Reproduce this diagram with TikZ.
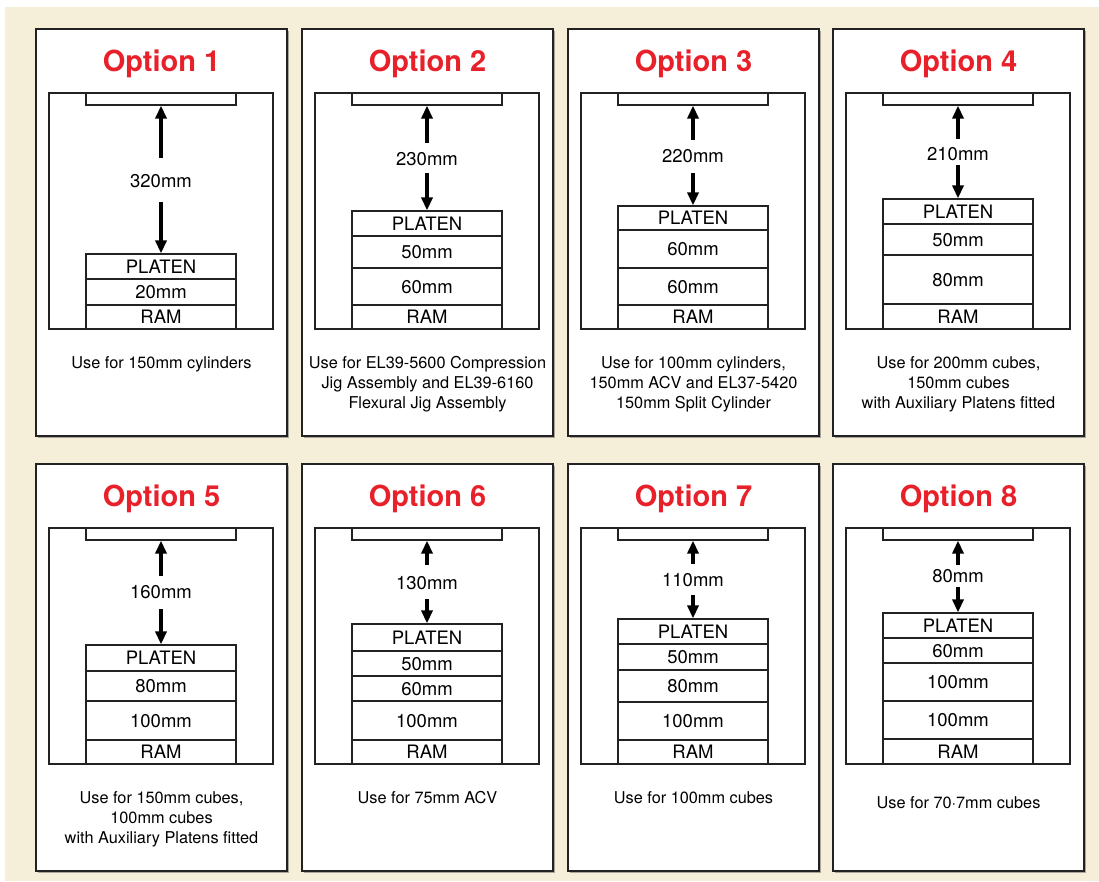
\documentclass[tikz,border=0pt]{standalone}
\usepackage{fontspec}
\setmainfont{TeX Gyre Heros}
\usetikzlibrary{arrows.meta}
\definecolor{bgbeige}{HTML}{F5EED8}
\definecolor{optred}{HTML}{E8202A}
\definecolor{linegray}{HTML}{222222}
\definecolor{shadowgray}{HTML}{A8A49A}
\tikzset{
  panel/.style={draw=linegray, line width=1.4pt, fill=white, inner sep=0pt, minimum width=251pt, minimum height=407pt},
  frame/.style={draw=linegray, line width=1.2pt},
  cell/.style={draw=linegray, line width=1.2pt, fill=white, minimum width=150pt, inner sep=0pt,
    font=\fontsize{18.5}{22}\selectfont, text height=13.3pt, text depth=0pt},
  topplate/.style={draw=linegray, line width=1.2pt, fill=white, minimum width=150pt, minimum height=12pt, inner sep=0pt},
  gaplabel/.style={inner sep=0pt, font=\fontsize{18.5}{22}\selectfont, text height=13.3pt, text depth=0pt},
  titletxt/.style={inner sep=0pt, text=optred, font=\fontsize{29}{34}\selectfont\bfseries, text height=20.9pt, text depth=0pt},
  captxt/.style={inner sep=0pt, font=\fontsize{16.3}{20}\selectfont, text height=11.7pt, text depth=0pt},
  dimarrow/.style={line width=3.6pt, -{Triangle[length=13pt,width=11pt]}},
}
% #1 left x, #2 row shift, #3 id, #4 title, #5 gap label, #6 label y, #7 up tail y, #8 down tail y, #9 cells
\newcommand{\optbox}[9]{%
  \begin{scope}[shift={(#1,#2)}]
    \fill[shadowgray] (2,31) rectangle (253,438);
    \node[panel] (#3box) at (125.5,232.5) {};
    \node[titletxt] (#3title) at (125.5,61) {#4};
    \draw[frame] (13,93) rectangle (237,329);
    \node[topplate] (#3top) at (125,99) {};
    \foreach \a/\b/\t [count=\k] in {#9} {
      \node[cell, minimum height={\b-\a}] (#3c\k) at (125,{(\a+\b)/2}) {\t};
    }
    \node[gaplabel] (#3gap) at (125,#6) {#5};
    \coordinate (#3up) at (125,#7);
    \coordinate (#3dn) at (125,#8);
    \draw[dimarrow] (#3up) -- (#3top.south);
    \draw[dimarrow] (#3dn) -- (#3c1.north);
  \end{scope}}
\begin{document}
\begin{tikzpicture}[x=1pt,y=-1pt]
  \useasboundingbox (0,0) rectangle (1099,881);
  \fill[bgbeige] (5,7) rectangle (1099,881);
  % row 1
  \optbox{36}{0}{pA}{Option 1}{320mm}{181}{158}{202}{254/279/PLATEN, 279/305/20mm, 305/329/RAM}
  \optbox{302}{0}{pB}{Option 2}{230mm}{159}{143}{173}{211/236/PLATEN, 236/268/50mm, 268/305/60mm, 305/329/RAM}
  \optbox{568}{0}{pC}{Option 3}{220mm}{156}{140}{173}{206/230/PLATEN, 230/268/60mm, 268/305/60mm, 305/329/RAM}
  \optbox{833}{0}{pD}{Option 4}{210mm}{154}{139}{165}{199/224/PLATEN, 224/255/50mm, 255/304/80mm, 304/329/RAM}
  % row 2
  \optbox{36}{435}{pE}{Option 5}{160mm}{157}{141}{174}{210/236/PLATEN, 236/266/80mm, 266/305/100mm, 305/329/RAM}
  \optbox{302}{435}{pF}{Option 6}{130mm}{148}{130}{164}{189/216/PLATEN, 216/241/50mm, 241/266/60mm, 266/305/100mm, 305/329/RAM}
  \optbox{568}{435}{pG}{Option 7}{110mm}{145}{129}{160}{184/209/PLATEN, 209/235/50mm, 235/267/80mm, 267/305/100mm, 305/329/RAM}
  \optbox{833}{435}{pH}{Option 8}{80mm}{141}{130}{152}{178/203/PLATEN, 203/228/60mm, 228/266/100mm, 266/304/100mm, 304/329/RAM}
  % captions
  \node[captxt] (capA1) at (161.5,363) {Use for 150mm cylinders};
  \node[captxt] (capB1) at (427.5,363) {Use for EL39-5600 Compression};
  \node[captxt] (capB2) at (427.5,383) {Jig Assembly and EL39-6160};
  \node[captxt] (capB3) at (427.5,403) {Flexural Jig Assembly};
  \node[captxt] (capC1) at (693.5,363) {Use for 100mm cylinders,};
  \node[captxt] (capC2) at (693.5,383) {150mm ACV and EL37-5420};
  \node[captxt] (capC3) at (693.5,403) {150mm Split Cylinder};
  \node[captxt] (capD1) at (958.5,363) {Use for 200mm cubes,};
  \node[captxt] (capD2) at (958.5,383) {150mm cubes};
  \node[captxt] (capD3) at (958.5,403) {with Auxiliary Platens fitted};
  \node[captxt] (capE1) at (161.5,798) {Use for 150mm cubes,};
  \node[captxt] (capE2) at (161.5,818) {100mm cubes};
  \node[captxt] (capE3) at (161.5,838) {with Auxiliary Platens fitted};
  \node[captxt] (capF1) at (427.5,798) {Use for 75mm ACV};
  \node[captxt] (capG1) at (693.5,798) {Use for 100mm cubes};
  \node[captxt] (capH1) at (958.5,803) {Use for 70·7mm cubes};
\end{tikzpicture}
\end{document}
